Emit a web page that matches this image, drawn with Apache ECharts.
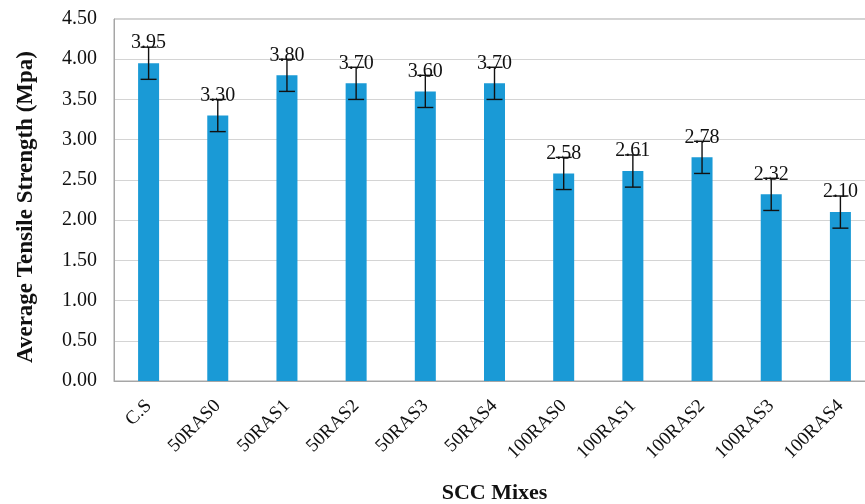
<!DOCTYPE html>
<html>
<head>
<meta charset="utf-8">
<script src="https://cdn.jsdelivr.net/npm/echarts@6/dist/echarts.min.js"></script>
<style>
  html, body { margin: 0; padding: 0; background: #fff; overflow: hidden; }
  #chart { width: 865px; height: 504px; }
</style>
</head>
<body>
<div id="chart"></div>
<script>
// Mix names along the x axis
const mixes = ['C.S', '50RAS0', '50RAS1', '50RAS2', '50RAS3', '50RAS4',
               '100RAS0', '100RAS1', '100RAS2', '100RAS3', '100RAS4'];
// Average tensile strength of each mix (MPa)
const strength = [3.95, 3.30, 3.80, 3.70, 3.60, 3.70, 2.58, 2.61, 2.78, 2.32, 2.10];
// Half-width of each error bar (MPa)
const errors = [0.2, 0.2, 0.2, 0.2, 0.2, 0.2, 0.2, 0.2, 0.2, 0.2, 0.2];

const serif = '"Liberation Serif", "Times New Roman", serif';
const chart = echarts.init(document.getElementById('chart'), null, { renderer: 'canvas' });

const errorData = strength.map((v, i) => [i, v - errors[i], v + errors[i]]);

chart.setOption({
  animation: false,
  backgroundColor: '#ffffff',
  grid: {
    left: 114, width: 761, top: 19, bottom: 123,
    outerBoundsMode: 'none',
    show: true, borderColor: '#a6a6a6', borderWidth: 1
  },
  xAxis: {
    type: 'category',
    data: mixes,
    name: 'SCC Mixes',
    nameLocation: 'middle',
    nameGap: 101,
    nameTextStyle: { fontFamily: serif, fontSize: 22, fontWeight: 'bold', color: '#111' },
    axisLine: { lineStyle: { color: '#a6a6a6' } },
    axisTick: { show: false },
    axisLabel: {
      rotate: 45, margin: 22, interval: 0,
      fontFamily: serif, fontSize: 19, color: '#111'
    }
  },
  yAxis: {
    type: 'value',
    min: 0, max: 4.5, interval: 0.5,
    name: 'Average Tensile Strength (Mpa)',
    nameLocation: 'middle',
    nameGap: 76,
    nameRotate: 90,
    nameTextStyle: {
      fontFamily: serif, fontSize: 23, fontWeight: 'bold', color: '#111',
      padding: [0, 14, 0, 0]
    },
    axisLine: { show: true, lineStyle: { color: '#a6a6a6' } },
    axisTick: { show: false },
    splitLine: { lineStyle: { color: '#d4d4d4', width: 1 } },
    axisLabel: {
      margin: 17,
      fontFamily: serif, fontSize: 20, color: '#111',
      formatter: v => v.toFixed(2)
    }
  },
  series: [
    {
      type: 'bar',
      data: strength,
      barWidth: 21,
      itemStyle: { color: '#1a9ad6' },
      label: {
        show: true,
        position: 'top',
        distance: 10,
        fontFamily: serif, fontSize: 20, color: '#111',
        formatter: p => p.value.toFixed(2)
      },
      z: 2
    },
    {
      type: 'custom',
      data: errorData,
      z: 5,
      renderItem: (params, api) => {
        const x = api.value(0);
        const lo = api.coord([x, api.value(1)]);
        const hi = api.coord([x, api.value(2)]);
        const cap = 8;
        const style = { stroke: '#111', lineWidth: 1.4 };
        return {
          type: 'group',
          children: [
            { type: 'line', shape: { x1: hi[0], y1: hi[1], x2: lo[0], y2: lo[1] }, style },
            { type: 'line', shape: { x1: hi[0] - cap, y1: hi[1], x2: hi[0] + cap, y2: hi[1] }, style },
            { type: 'line', shape: { x1: lo[0] - cap, y1: lo[1], x2: lo[0] + cap, y2: lo[1] }, style }
          ]
        };
      }
    }
  ]
});
</script>
</body>
</html>
